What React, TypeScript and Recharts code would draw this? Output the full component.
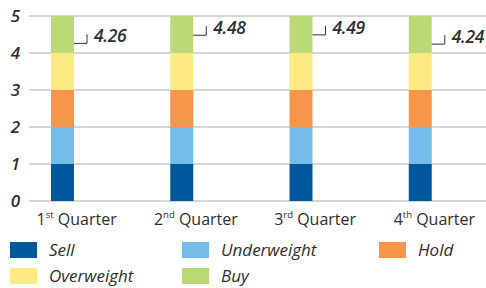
import React from 'react';
import { ComposedChart, Bar, XAxis, YAxis, CartesianGrid } from 'recharts';

const quarterNums = ['1', '2', '3', '4'];
const quarterSuffixes = ['st', 'nd', 'rd', 'th'];
const sell = [1, 1, 1, 1];
const underweight = [1, 1, 1, 1];
const hold = [1, 1, 1, 1];
const overweight = [1, 1, 1, 1];
const buy = [1, 1, 1, 1];
const averages = [4.26, 4.48, 4.49, 4.24];
const yTicks = [0, 1, 2, 3, 4, 5];

const seriesNames = ['Sell', 'Underweight', 'Hold', 'Overweight', 'Buy'];
const seriesKeys = ['sell', 'underweight', 'hold', 'overweight', 'buy'];
const seriesColors = ['#00589c', '#75bde9', '#f7954a', '#ffe983', '#bcd977'];

const data = quarterNums.map((n, i) => ({
  q: n + quarterSuffixes[i],
  sell: sell[i],
  underweight: underweight[i],
  hold: hold[i],
  overweight: overweight[i],
  buy: buy[i],
  avg: averages[i],
}));

const TEXT = '#2e2e2e';
const BAR_GAP = 6;

const YTick = (props: any) => {
  const { x, y, payload } = props;
  return (
    <text x={x} y={y} dy="0.36em" textAnchor="end" fill={TEXT}
      style={{ fontFamily: 'Open Sans', fontStyle: 'italic', fontWeight: 600, fontSize: 17 }}>
      {payload.value}
    </text>
  );
};

const XTick = (props: any) => {
  const { x, y, index } = props;
  return (
    <text x={x} y={y + 24} textAnchor="middle" fill={TEXT}
      style={{ fontFamily: 'Open Sans', fontSize: 16 }}>
      <tspan>{quarterNums[index]}</tspan>
      <tspan dy={-7} fontSize={9.5}>{quarterSuffixes[index]}</tspan>
      <tspan dy={7}>{'\u00a0Quarter'}</tspan>
    </text>
  );
};

const AvgMarker = (props: any) => {
  const { x, y, payload } = props;
  const left = x - BAR_GAP;
  return (
    <g>
      <polyline points={`${left},${y} ${left + 13},${y} ${left + 13},${y - 9}`}
        fill="none" stroke="#333" strokeWidth={1} />
      <text x={left + 20} y={y - 1} fill={TEXT} letterSpacing={-0.3}
        style={{ fontFamily: 'Open Sans', fontStyle: 'italic', fontWeight: 600, fontSize: 17.5 }}>
        {payload.avg.toFixed(2)}
      </text>
    </g>
  );
};

const legendCols = [10, 182, 379];
const legendRows = [242, 268];

export default function App() {
  return (
    <div style={{ position: 'absolute', left: 0, top: 0, width: 486, height: 288, background: '#fff' }}>
      <ComposedChart width={486} height={230} data={data}
        margin={{ top: 16, right: 0, bottom: 0, left: 0 }}
        barGap={BAR_GAP}>
        <CartesianGrid vertical={false} stroke="#c9c9c9" strokeWidth={1.5} />
        <XAxis dataKey="q" axisLine={false} tickLine={false} tickSize={0} tickMargin={0}
          height={29} padding={{ left: -12, right: -8 }} tick={<XTick />} interval={0} />
        <YAxis domain={[0, 5]} ticks={yTicks} axisLine={false} tickLine={false}
          tickSize={0} tickMargin={9} width={29} tick={<YTick />} interval={0} />
        {seriesKeys.map((k, i) => (
          <Bar key={k} dataKey={k} stackId="a" fill={seriesColors[i]} barSize={23}
            isAnimationActive={false} />
        ))}
        <Bar dataKey="avg" stackId="b" barSize={23} fill="none"
          shape={<AvgMarker />} isAnimationActive={false} />
      </ComposedChart>
      {seriesNames.map((name, i) => {
        const col = i % 3;
        const row = Math.floor(i / 3);
        return (
          <div key={name} style={{ position: 'absolute', left: legendCols[col], top: legendRows[row], height: 16 }}>
            <div style={{ position: 'absolute', left: 0, top: 0, width: 27, height: 16, background: seriesColors[i] }} />
            <div style={{
              position: 'absolute', left: 39, top: -4, whiteSpace: 'nowrap', color: TEXT,
              fontFamily: 'Open Sans', fontStyle: 'italic', fontSize: 17, lineHeight: '24px',
            }}>{name}</div>
          </div>
        );
      })}
    </div>
  );
}
